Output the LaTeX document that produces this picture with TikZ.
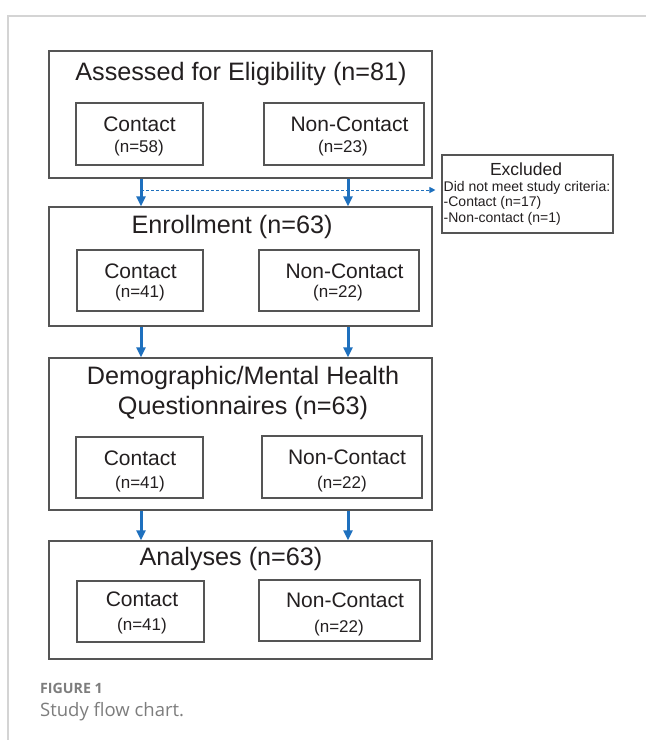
\documentclass[tikz,border=0pt]{standalone}
\usepackage{fontspec}
\setmainfont{Liberation Sans}
\newfontfamily\capfont{Open Sans}
\usetikzlibrary{arrows.meta}
\definecolor{bl}{RGB}{30,112,190}
\definecolor{bx}{RGB}{85,85,85}
\definecolor{fr}{RGB}{212,212,212}
\definecolor{capc}{RGB}{125,125,125}
\definecolor{tx}{RGB}{35,31,32}
\begin{document}
\begin{tikzpicture}[x=1pt,y=-1pt,
  outerbox/.style={draw=bx,line width=1.3pt,inner sep=0pt,rectangle,minimum width=383pt},
  innerbox/.style={draw=bx,line width=1.1pt,inner sep=0pt,rectangle},
  titletxt/.style={text=tx,inner sep=0pt,font=\fontsize{25.2}{30}\selectfont},
  labtxt/.style={text=tx,inner sep=0pt,font=\fontsize{21}{25}\selectfont},
  cnttxt/.style={text=tx,inner sep=0pt,font=\fontsize{17}{20}\selectfont},
  extxt/.style={text=tx,inner sep=0pt,font=\fontsize{14}{17}\selectfont},
  arr/.style={draw=bl,line width=3pt,-{Triangle[width=9pt,length=10pt]}},
  darr/.style={draw=bl,line width=1pt,dash pattern=on 3pt off 2pt,shorten >=6pt,-{Triangle[width=6pt,length=6pt]}}
]
\useasboundingbox (0,0) rectangle (646,740);
\fill[white] (0,0) rectangle (646,740);
\draw[fr,line width=1.5pt] (8,740) -- (8,16) -- (646,16);

% boxes
\node[outerbox,minimum height=127pt] (b1) at (240.5,114.5) {};
\node[innerbox,minimum width=127pt,minimum height=62pt] (c1) at (139.5,134) {};
\node[innerbox,minimum width=160pt,minimum height=62pt] (n1) at (344,134) {};

\node[outerbox,minimum height=119pt] (b2) at (240.5,266.5) {};
\node[innerbox,minimum width=126pt,minimum height=61pt] (c2) at (140,280.5) {};
\node[innerbox,minimum width=160pt,minimum height=61pt] (n2) at (339,280.5) {};

\node[outerbox,minimum height=152pt] (b3) at (240.5,434) {};
\node[innerbox,minimum width=127pt,minimum height=61pt] (c3) at (139.5,467.5) {};
\node[innerbox,minimum width=160pt,minimum height=62pt] (n3) at (342,467) {};

\node[outerbox,minimum height=118pt] (b4) at (240.5,600) {};
\node[innerbox,minimum width=127pt,minimum height=61pt] (c4) at (140.5,611.5) {};
\node[innerbox,minimum width=161pt,minimum height=61pt] (n4) at (339.5,610.5) {};

\node[innerbox,minimum width=171pt,minimum height=78pt] (ex) at (527.5,194) {};

% texts
\node[titletxt] (t1) at (241,74) {Assessed for Eligibility (n=81)};
\node[labtxt] (t1c) at (139.5,124) {Contact};
\node[cnttxt] (t1cn) at (139,148) {(n=58)};
\node[labtxt] (t1n) at (349.5,124) {Non-Contact};
\node[cnttxt] (t1nn) at (343,148) {(n=23)};

\node[titletxt] (t2) at (232,227) {Enrollment (n=63)};
\node[labtxt] (t2c) at (140.5,271) {Contact};
\node[cnttxt] (t2cn) at (140,293) {(n=41)};
\node[labtxt] (t2n) at (344.5,271) {Non-Contact};
\node[cnttxt] (t2nn) at (338,293) {(n=22)};

\node[titletxt] (t3a) at (243,378) {Demographic/Mental Health};
\node[titletxt] (t3b) at (243,408) {Questionnaires (n=63)};
\node[labtxt] (t3c) at (140,458) {Contact};
\node[cnttxt] (t3cn) at (140,484) {(n=41)};
\node[labtxt] (t3n) at (347,457) {Non-Contact};
\node[cnttxt] (t3nn) at (342,484) {(n=22)};

\node[titletxt] (t4) at (231,559) {Analyses (n=63)};
\node[labtxt] (t4c) at (142,599) {Contact};
\node[cnttxt] (t4cn) at (142,626) {(n=41)};
\node[labtxt] (t4n) at (345,600) {Non-Contact};
\node[cnttxt] (t4nn) at (339,628) {(n=22)};

\node[extxt,font=\fontsize{17.5}{20}\selectfont] (ext) at (526,169) {Excluded};
\node[extxt,anchor=west] (ex1) at (443.5,188) {Did not meet study criteria:};
\node[extxt,anchor=west] (ex2) at (443.5,203) {-Contact (n=17)};
\node[extxt,anchor=west] (ex3) at (443.5,219) {-Non-contact (n=1)};

% caption
\node[anchor=west,inner sep=0pt,text=capc,font=\capfont\bfseries\fontsize{14.2}{16}\selectfont] (fig) at (40,688) {FIGURE 1};
\node[anchor=west,inner sep=0pt,text=capc,font=\capfont\fontsize{18.5}{22}\selectfont] (capt) at (40,712) {Study flow chart.};

% connectors
\coordinate (xl) at (141,0);
\coordinate (xr) at (348,0);
\coordinate (dy) at (0,190);
\draw[arr] (b1.south -| xl) -- (b2.north -| xl);
\draw[arr] (b1.south -| xr) -- (b2.north -| xr);
\draw[darr] (dy -| xl) -- (dy -| ex.west);
\draw[arr] (b2.south -| xl) -- (b3.north -| xl);
\draw[arr] (b2.south -| xr) -- (b3.north -| xr);
\draw[arr] (b3.south -| xl) -- (b4.north -| xl);
\draw[arr] (b3.south -| xr) -- (b4.north -| xr);
\end{tikzpicture}
\end{document}
